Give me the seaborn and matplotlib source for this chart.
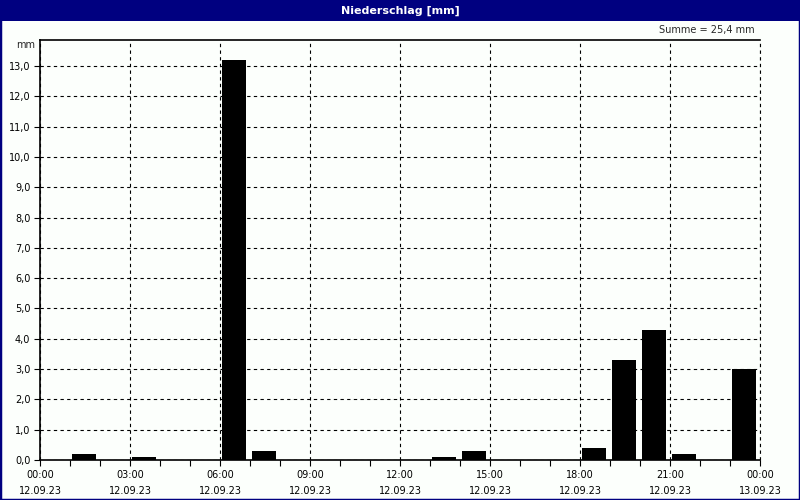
import matplotlib
matplotlib.use('Agg')
import matplotlib.pyplot as plt
import numpy as np
import seaborn as sns

# hourly precipitation, 12.09.23 00:00 .. 13.09.23 00:00
hours = np.arange(24)
niederschlag = [0.0, 0.2, 0.0, 0.1, 0.0, 0.0, 13.2, 0.3, 0.0, 0.0, 0.0, 0.0,
                0.0, 0.1, 0.3, 0.0, 0.0, 0.0, 0.4, 3.3, 4.3, 0.2, 0.0, 3.0]
tick_hours = [0, 3, 6, 9, 12, 15, 18, 21, 24]
tick_labels = ['00:00\n12.09.23', '03:00\n12.09.23', '06:00\n12.09.23',
               '09:00\n12.09.23', '12:00\n12.09.23', '15:00\n12.09.23',
               '18:00\n12.09.23', '21:00\n12.09.23', '00:00\n13.09.23']

sns.set_style('white')
plt.rcParams['font.family'] = ['DejaVu Sans']

bg = '#fcfffc'
navy = '#000080'
fig = plt.figure(figsize=(8, 5), dpi=100, facecolor=bg)

# title bar
bar_ax = fig.add_axes([0, 0.958, 1, 0.042])
bar_ax.set_facecolor(navy)
bar_ax.set_xticks([])
bar_ax.set_yticks([])
for s in bar_ax.spines.values():
    s.set_visible(False)
bar_ax.text(0.5, 0.5, 'Niederschlag [mm]', color='white', fontsize=8,
            fontweight='bold', ha='center', va='center', transform=bar_ax.transAxes)

# border
fig.patches.append(plt.Rectangle((0, 0), 1, 1, transform=fig.transFigure,
                                 fill=False, edgecolor=navy, linewidth=2.5))

ax = fig.add_axes([0.05, 0.08, 0.9, 0.84])
ax.set_facecolor(bg)
sns.barplot(x=hours + 0.47, y=niederschlag, native_scale=True, width=0.8,
            color='black', linewidth=0, saturation=1, ax=ax)

ax.set_xlim(0, 24)
ax.set_ylim(0, 13.86)
ax.set_xticks(tick_hours)
ax.set_xticklabels(tick_labels, fontsize=7, linespacing=1.75)
ax.set_xticks(np.arange(25), minor=True)
yt = np.arange(0, 14)
ax.set_yticks(yt)
ax.set_yticklabels([f'{v:.1f}'.replace('.', ',') for v in yt], fontsize=7)
ax.tick_params(axis='both', which='major', direction='out', length=4, width=0.8,
               color='black', labelcolor='black', pad=3, bottom=True, left=True)
ax.tick_params(axis='x', which='minor', direction='out', length=4, width=0.8,
               color='black', bottom=True)
ax.grid(True, which='major', color='black', linestyle=(0, (3, 3)), linewidth=0.8)
ax.axvline(24, color='black', linestyle=(0, (3, 3)), linewidth=0.8, clip_on=False)
ax.set_axisbelow(True)
for side in ['left', 'bottom', 'top']:
    ax.spines[side].set_color('black')
    ax.spines[side].set_linewidth(1.2)
ax.spines['right'].set_visible(False)
ax.set_xlabel('')
ax.set_ylabel('')

fig.text(35 / 800, 1 - 45 / 500, 'mm', fontsize=7, ha='right', va='center')
fig.text(755 / 800, 1 - 30 / 500, 'Summe = 25,4 mm', fontsize=7, ha='right', va='center')

fig.savefig('out.png', dpi=100, facecolor=bg)
